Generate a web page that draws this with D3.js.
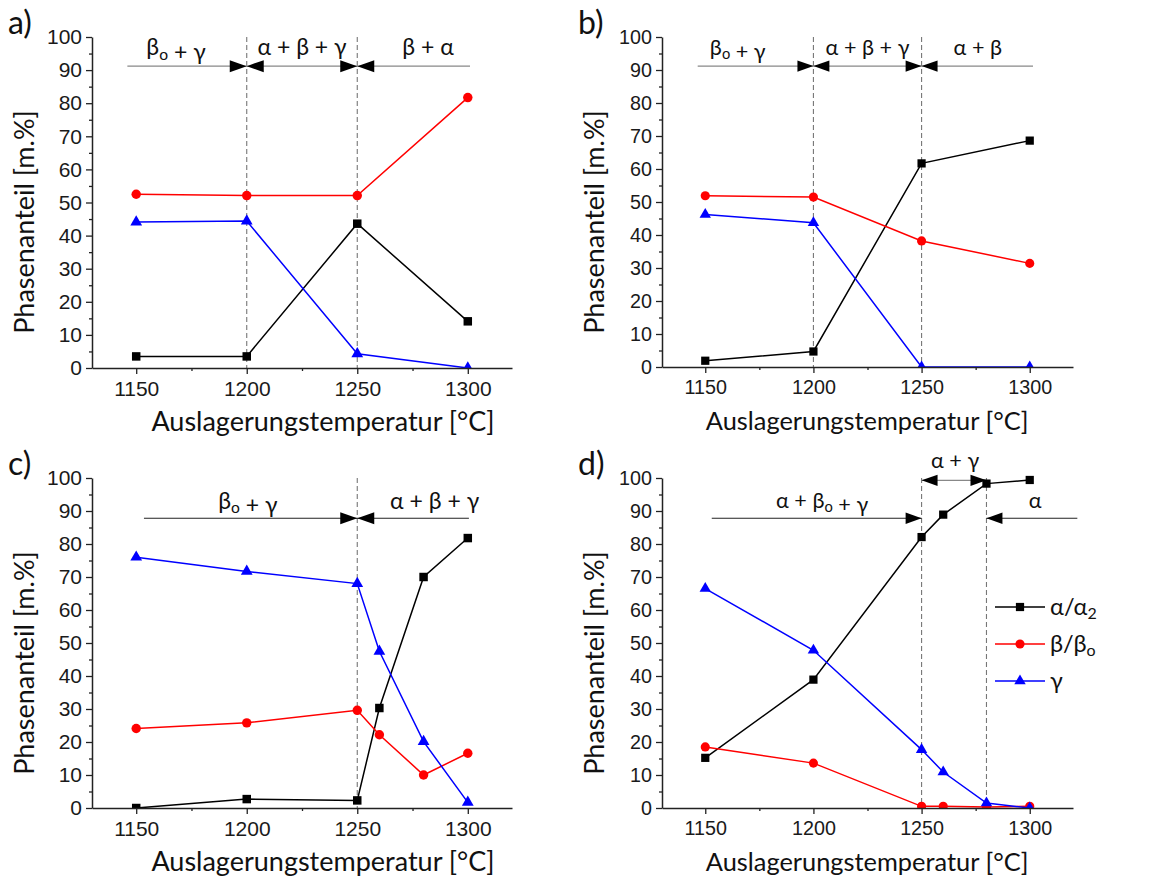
<!DOCTYPE html>
<html>
<head>
<meta charset="utf-8">
<script src="https://cdn.jsdelivr.net/npm/d3@7"></script>
<style>
  body { margin: 0; background: #fff; }
</style>
</head>
<body>
<div id="chart"></div>
<script>
// data
const temps4 = [1150, 1200, 1250, 1300]
const temps6 = [1150, 1200, 1250, 1260, 1280, 1300]

const alphaA = [3.5, 3.5, 43.6, 14.1]
const betaA = [52.5, 52.1, 52.1, 81.7]
const gammaA = [44.1, 44.4, 4.3, 0]

const alphaB = [1.9, 4.7, 61.7, 68.6]
const betaB = [51.9, 51.5, 38.2, 31.4]
const gammaB = [46.2, 43.7, 0, 0]

const alphaC = [0, 2.7, 2.3, 30.3, 70, 81.8]
const betaC = [24.1, 25.8, 29.6, 22.2, 10, 16.6]
const gammaC = [76, 71.7, 68, 47.5, 20.1, 1.7]

const alphaD = [15.2, 38.9, 82.1, 88.9, 98.3, 99.4]
const betaD = [18.5, 13.6, 0.5, 0.5, 0.3, 0.5]
const gammaD = [66.5, 47.8, 17.7, 10.9, 1.5, 0]

const seriesNames = ['α/α_2', 'β/β_o', 'γ']
const yTicks = d3.range(0, 101, 10)
const yMinor = d3.range(5, 100, 10)
const xTicks = [1150, 1200, 1250, 1300]
const xMinor = [1175, 1225, 1275]
const xLabel = 'Auslagerungstemperatur [°C]'
const yLabel = 'Phasenanteil [m.%]'

// look
const colors = ['#000000', '#ff0000', '#0000ff']
const symbols = [d3.symbolSquare, d3.symbolCircle, d3.symbolTriangle]
const symbolSizes = [72, 70, 60]
const tickFont = "'Liberation Sans', Arial, sans-serif"
const textFont = "Lato, 'Open Sans', sans-serif"

// panels
const panels = [
  {
    tag: 'a)', left: 92, right: 512, top: 37, bottom: 368, k: 1,
    temps: temps4, series: [alphaA, betaA, gammaA],
    bounds: [1200, 1250],
    labels: [
      { t: 'β_o + γ', x: 1168, y: 94.5 },
      { t: 'α + β + γ', x: 1225, y: 94.5 },
      { t: 'β + α', x: 1282, y: 94.5 },
    ],
    arrows: [
      { y: 91.2, x1: 1146, x2: 1301, color: '#888', heads: [[1200, 1], [1200, -1], [1250, 1], [1250, -1]] },
    ],
  },
  {
    tag: 'b)', left: 662, right: 1073, top: 37, bottom: 367, k: 0.94,
    temps: temps4, series: [alphaB, betaB, gammaB],
    bounds: [1200, 1250],
    labels: [
      { t: 'β_o + γ', x: 1165, y: 94.5 },
      { t: 'α + β + γ', x: 1225, y: 94.5 },
      { t: 'α + β', x: 1276, y: 94.5 },
    ],
    arrows: [
      { y: 91.2, x1: 1146.5, x2: 1301.5, color: '#888', heads: [[1200, 1], [1200, -1], [1250, 1], [1250, -1]] },
    ],
  },
  {
    tag: 'c)', left: 92, right: 512, top: 478, bottom: 808, k: 1,
    temps: temps6, series: [alphaC, betaC, gammaC],
    bounds: [1250],
    labels: [
      { t: 'β_o + γ', x: 1200.5, y: 90.6 },
      { t: 'α + β + γ', x: 1285, y: 90.6 },
    ],
    arrows: [
      { y: 87.8, x1: 1153.5, x2: 1300.5, color: '#222', heads: [[1250, 1], [1250, -1]] },
    ],
  },
  {
    tag: 'd)', left: 662, right: 1073, top: 478, bottom: 808, k: 0.94,
    temps: temps6, series: [alphaD, betaD, gammaD],
    bounds: [1250, 1280],
    labels: [
      { t: 'α + β_o + γ', x: 1204, y: 90.8 },
      { t: 'α + γ', x: 1265.5, y: 103 },
      { t: 'α', x: 1302.5, y: 90.8 },
    ],
    arrows: [
      { y: 87.8, x1: 1153, x2: 1250, color: '#222', heads: [[1250, 1]] },
      { y: 87.8, x1: 1280, x2: 1322, color: '#222', heads: [[1280, -1]] },
      { y: 99.3, x1: 1250, x2: 1280, color: '#888', heads: [[1250, -1], [1280, 1]] },
    ],
    legend: { x: 333, y: 129, step: 37 },
  },
]

const svg = d3
  .select('#chart')
  .append('svg')
  .attr('width', 1152)
  .attr('height', 882)

// text with "_x" subscripts
function richText(sel, str) {
  const parts = str.split(/_(.)/)
  parts.forEach((p, i) => {
    if (!p) return
    if (i % 2 === 1) {
      sel.append('tspan').attr('font-size', '0.68em').attr('dy', '0.28em').text(p)
      sel.append('tspan').attr('dy', '-0.19em').text('')
    } else {
      sel.append('tspan').text(p)
    }
  })
}

function drawPanel(p, pi) {
  const g = svg.append('g')
  const x = d3.scaleLinear().domain([1130, 1320]).range([p.left, p.right])
  const y = d3.scaleLinear().domain([0, 100]).range([p.bottom, p.top])

  // clip marks at the x-axis, like the original plot frame
  const clipId = `clip-${pi}`
  svg.append('clipPath')
    .attr('id', clipId)
    .append('rect')
    .attr('x', p.left)
    .attr('y', p.top - 20)
    .attr('width', p.right - p.left)
    .attr('height', p.bottom - p.top + 20)

  // dashed phase boundaries
  p.bounds.forEach(b => {
    g.append('line')
      .attr('x1', x(b)).attr('x2', x(b))
      .attr('y1', y(100)).attr('y2', y(0))
      .attr('stroke', '#777')
      .attr('stroke-width', 1.1)
      .attr('stroke-dasharray', '5,3')
  })

  // arrow rows
  p.arrows.forEach(a => {
    g.append('line')
      .attr('x1', x(a.x1)).attr('x2', x(a.x2))
      .attr('y1', y(a.y)).attr('y2', y(a.y))
      .attr('stroke', a.color)
      .attr('stroke-width', 1.2)
    a.heads.forEach(([hx, dir]) => {
      const tx = x(hx)
      const ty = y(a.y)
      const len = 17 * p.k * dir
      const half = 6 * p.k
      g.append('path')
        .attr('d', `M${tx},${ty}L${tx - len},${ty - half}L${tx - len},${ty + half}Z`)
        .attr('fill', '#000')
    })
  })

  // region labels
  p.labels.forEach(l => {
    const t = g.append('text')
      .attr('x', x(l.x))
      .attr('y', y(l.y))
      .attr('text-anchor', 'middle')
      .attr('font-family', textFont)
      .attr('font-size', 23 * p.k)
      .attr('fill', '#111')
    richText(t, l.t)
  })

  // series
  const plot = g.append('g').attr('clip-path', `url(#${clipId})`)
  p.series.forEach((vals, si) => {
    const pts = p.temps.map((t, i) => [t, vals[i]])
    plot.append('path')
      .datum(pts)
      .attr('fill', 'none')
      .attr('stroke', colors[si])
      .attr('stroke-width', 1.5)
      .attr('d', d3.line().x(d => x(d[0])).y(d => y(d[1])))
    plot.selectAll(null)
      .data(pts)
      .enter()
      .append('path')
      .attr('transform', d => `translate(${x(d[0])}, ${y(d[1])})`)
      .attr('d', d3.symbol().type(symbols[si]).size(symbolSizes[si] * p.k))
      .attr('fill', colors[si])
  })

  // x-axis
  const xAxis = g.append('g')
    .attr('transform', `translate(0, ${p.bottom})`)
    .call(
      d3.axisBottom(x)
        .tickValues(xTicks)
        .tickSize(6)
        .tickSizeOuter(0)
        .tickPadding(7)
        .tickFormat(d3.format('d')),
    )
  const xAxisMinor = g.append('g')
    .attr('transform', `translate(0, ${p.bottom})`)
    .call(d3.axisBottom(x).tickValues(xMinor).tickSize(3).tickFormat(''))
  xAxisMinor.select('.domain').remove()

  // y-axis
  const yAxis = g.append('g')
    .attr('transform', `translate(${p.left}, 0)`)
    .call(
      d3.axisLeft(y)
        .tickValues(yTicks)
        .tickSize(6)
        .tickSizeOuter(0)
        .tickPadding(4),
    )
  const yAxisMinor = g.append('g')
    .attr('transform', `translate(${p.left}, 0)`)
    .call(d3.axisLeft(y).tickValues(yMinor).tickSize(3).tickFormat(''))
  yAxisMinor.select('.domain').remove()

  ;[xAxis, xAxisMinor, yAxis, yAxisMinor].forEach(ax => {
    ax.selectAll('.domain').attr('stroke', '#222').attr('stroke-width', 1.5)
    ax.selectAll('.tick line').attr('stroke', '#222').attr('stroke-width', 1.3)
    ax.selectAll('.tick text')
      .attr('font-family', tickFont)
      .attr('font-size', 21 * p.k)
      .attr('fill', '#1a1a1a')
  })

  // legend
  if (p.legend) {
    seriesNames.forEach((name, i) => {
      const lx = p.left + p.legend.x
      const ly = p.top + p.legend.y + i * p.legend.step
      g.append('line')
        .attr('x1', lx).attr('x2', lx + 50)
        .attr('y1', ly).attr('y2', ly)
        .attr('stroke', colors[i])
        .attr('stroke-width', 1.5)
      g.append('path')
        .attr('transform', `translate(${lx + 25}, ${ly})`)
        .attr('d', d3.symbol().type(symbols[i]).size(symbolSizes[i] * p.k))
        .attr('fill', colors[i])
      const t = g.append('text')
        .attr('x', lx + 55)
        .attr('y', ly + 8)
        .attr('font-family', textFont)
        .attr('font-size', 25 * p.k)
        .attr('fill', '#111')
      richText(t, name)
    })
  }

  // axis titles
  g.append('text')
    .attr('x', p.left + 231 * p.k - (p.k < 1 ? 12 : 0))
    .attr('y', p.bottom + 63)
    .attr('text-anchor', 'middle')
    .attr('font-family', textFont)
    .attr('font-size', 27 * p.k)
    .attr('fill', '#111')
    .text(xLabel)

  g.append('text')
    .attr('transform', `translate(${p.left - 58}, ${p.top + 185}) rotate(-90)`)
    .attr('text-anchor', 'middle')
    .attr('font-family', textFont)
    .attr('font-size', 27)
    .attr('fill', '#111')
    .text(yLabel)

  // panel tag
  g.append('text')
    .attr('x', p.left - 84)
    .attr('y', p.top - 3)
    .attr('font-family', textFont)
    .attr('font-size', 32)
    .attr('fill', '#111')
    .text(p.tag)
}

panels.forEach(drawPanel)
</script>
</body>
</html>
